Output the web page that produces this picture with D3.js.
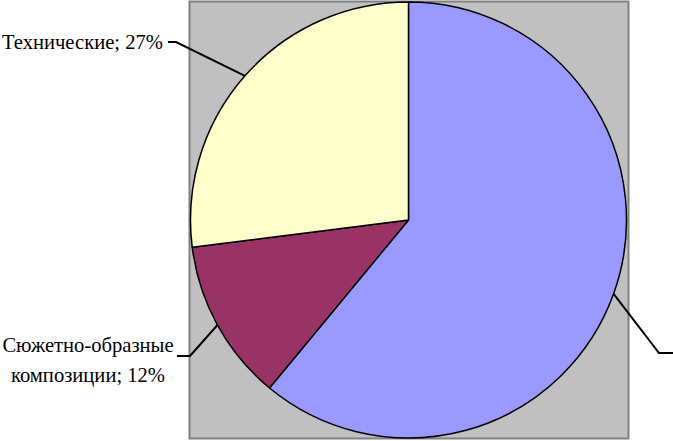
<!DOCTYPE html>
<html><head><meta charset="utf-8">
<script src="https://cdn.jsdelivr.net/npm/d3@7"></script>
<style>body{margin:0;background:#fff}svg{display:block}</style>
</head><body>
<svg id="c" width="673" height="441"></svg>
<script>
const categories = ["Сюжетные", "Сюжетно-образные композиции", "Технические"];
const values = [61, 12, 27];
const labelLines = [[], ["Сюжетно-образные", "композиции; 12%"], ["Технические; 27%"]];
const colors = ["#9999FF", "#993366", "#FFFFCC"];

const svg = d3.select("#c");
const cx = 408.5, cy = 220, r = 218;
svg.append("rect").attr("x", 189.5).attr("y", 1.5).attr("width", 439).attr("height", 437)
  .attr("fill", "#C0C0C0").attr("stroke", "#808080").attr("stroke-width", 2);

const pie = d3.pie().sort(null).value(d => d);
const arcs = pie(values);
const arc = d3.arc().innerRadius(0).outerRadius(r);
const g = svg.append("g").attr("transform", `translate(${cx},${cy})`);
g.selectAll("path").data(arcs).join("path")
  .attr("d", arc).attr("fill", (d, i) => colors[i])
  .attr("stroke", "#000").attr("stroke-width", 1.5).attr("stroke-linejoin", "round");

// label layout: elbow point, end of horizontal, text anchor
const layout = [
  {elbow: [659, 353], end: [680, 353], tx: 684, ty: 360, anchor: "start"},
  {elbow: [190, 356], end: [177, 356], tx: 88, ty: 352, anchor: "middle"},
  {elbow: [176, 42], end: [168, 42], tx: 2, ty: 49, anchor: "start"}
];
arcs.forEach((a, i) => {
  const m = (a.startAngle + a.endAngle) / 2;
  const p = [cx + r * Math.sin(m), cy - r * Math.cos(m)];
  const L = layout[i];
  svg.append("polyline").attr("points", [p, L.elbow, L.end].map(q => q.join(",")).join(" "))
    .attr("fill", "none").attr("stroke", "#000").attr("stroke-width", 2);
  if (!labelLines[i].length) return;
  const t = svg.append("text").attr("x", L.tx).attr("y", L.ty)
    .attr("text-anchor", L.anchor)
    .attr("font-family", "'Liberation Serif','Times New Roman',serif")
    .attr("font-size", 20.6).attr("fill", "#000");
  labelLines[i].forEach((s, j) => t.append("tspan").attr("x", L.tx).attr("dy", j ? 30 : 0).text(s));
});
</script>
</body></html>
